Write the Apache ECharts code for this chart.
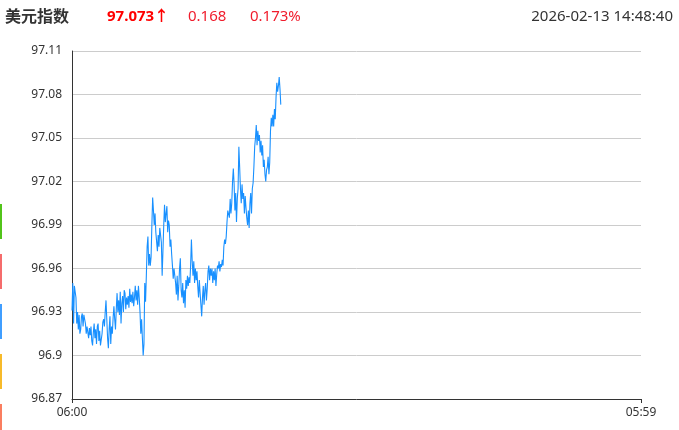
<!DOCTYPE html>
<html>
<head>
<meta charset="utf-8">
<script src="https://cdn.jsdelivr.net/npm/echarts@6/dist/echarts.min.js"></script>
<style>html,body{margin:0;padding:0;background:#fff;}#c{width:679px;height:430px;}</style>
</head>
<body>
<div id="c"></div>
<script>
// --- data ---
const titleText = '美元指数';
const lastPrice = '97.073↑';
const changeAbs = '0.168';
const changePct = '0.173%';
const stamp = '2026-02-13 14:48:40';
const xTickLabels = ['06:00', '05:59'];
const yTicks = [96.87, 96.9, 96.93, 96.96, 96.99, 97.02, 97.05, 97.08, 97.11];
const stepMinutes = 2; // one sample every 2 minutes from 06:00
const prices = [
  96.931, 96.950, 96.922, 96.948, 96.944, 96.940,
  96.922, 96.930, 96.918, 96.928, 96.915,
  96.918, 96.927, 96.929, 96.920, 96.928, 96.925,
  96.922, 96.915, 96.920, 96.921, 96.912, 96.919, 96.914, 96.920,
  96.910, 96.907, 96.916,
  96.922, 96.912, 96.918, 96.908, 96.920, 96.922, 96.910, 96.917, 96.907,
  96.906, 96.915, 96.923,
  96.925, 96.920, 96.930, 96.938,
  96.925, 96.912, 96.905, 96.918,
  96.927, 96.908, 96.920, 96.915, 96.926,
  96.934, 96.925, 96.918, 96.932,
  96.943, 96.930, 96.938, 96.928,
  96.944, 96.922, 96.936, 96.941, 96.930, 96.945,
  96.943, 96.932, 96.940, 96.935,
  96.941, 96.933, 96.946, 96.937, 96.942,
  96.936, 96.944, 96.934, 96.940, 96.948,
  96.938, 96.945, 96.935, 96.948, 96.940,
  96.930, 96.915, 96.925,
  96.912, 96.900, 96.908,
  96.950, 96.937, 96.955,
  96.975, 96.982, 96.962,
  96.970, 96.962, 96.968,
  96.990, 97.009, 97.000,
  96.990, 96.998, 96.985,
  96.985, 96.972, 96.983, 96.975, 96.988,
  96.988, 96.978, 96.955,
  96.972, 96.990, 97.004, 96.992,
  96.998, 97.003, 96.985, 96.993,
  96.990, 96.975, 96.980, 96.970,
  96.962, 96.953, 96.960, 96.955,
  96.950, 96.942, 96.955, 96.938, 96.948,
  96.960, 96.967, 96.945, 96.940,
  96.950, 96.936, 96.945, 96.933,
  96.952, 96.946, 96.955, 96.948, 96.954, 96.950,
  96.962, 96.980, 96.965,
  96.955, 96.965, 96.950, 96.960, 96.952, 96.958,
  96.948, 96.940, 96.952, 96.943,
  96.935, 96.927,
  96.940, 96.948, 96.935, 96.945, 96.950, 96.938, 96.946,
  96.958, 96.962, 96.952, 96.960,
  96.955, 96.960, 96.950, 96.958, 96.952, 96.960,
  96.948, 96.956, 96.962,
  96.960, 96.965, 96.958, 96.963, 96.961, 96.966, 96.962,
  96.975, 96.980, 96.977,
  96.982, 96.992, 97.000,
  97.000, 96.995, 97.008, 96.998, 97.005,
  97.020, 97.029,
  97.018, 97.000, 97.012, 96.992, 97.008, 97.015,
  97.044, 97.030,
  97.015, 97.005, 97.018, 97.008,
  97.012, 96.998, 97.010, 97.002,
  96.995, 96.990, 97.000, 96.988,
  97.005, 97.012, 96.998, 97.015,
  97.019, 97.030, 97.044,
  97.050, 97.059, 97.045, 97.055, 97.048,
  97.052, 97.040, 97.048, 97.038, 97.045,
  97.030, 97.035,
  97.025, 97.020, 97.028,
  97.030, 97.037, 97.025, 97.033,
  97.055, 97.064, 97.058,
  97.066, 97.058, 97.070, 97.063,
  97.078, 97.088, 97.082, 97.086,
  97.092, 97.084,
  97.073
];
const dayMinutes = 1439; // 06:00 .. 05:59 next day

// --- chart ---
const seriesData = prices.map((v, i) => [i * stepMinutes, v]);
const chart = echarts.init(document.getElementById('c'), null, { renderer: 'canvas' });
const font = '"Noto Sans", "Noto Sans CJK SC", sans-serif';
const sideColors = ['#52c41a', '#f56c6c', '#409eff', '#f7ba2a', '#fa7e60'];
const sideBars = sideColors.map((c, k) => ({
  type: 'rect', left: 0, top: 204 + k * 50,
  shape: { width: 2, height: 35 }, style: { fill: c }
}));
chart.setOption({
  animation: false,
  backgroundColor: '#fff',
  grid: { left: 72, right: 38, top: 51, bottom: 31 },
  xAxis: {
    type: 'value', min: 0, max: dayMinutes, interval: dayMinutes,
    axisLine: { show: true, lineStyle: { color: '#333', width: 1 } },
    axisTick: { show: true, length: 4, lineStyle: { color: '#333' } },
    splitLine: { show: false },
    axisLabel: {
      color: '#333', fontSize: 12, fontFamily: font, margin: 8,
      formatter: v => (v === 0 ? xTickLabels[0] : xTickLabels[1])
    }
  },
  yAxis: {
    type: 'value', min: yTicks[0], max: yTicks[yTicks.length - 1], interval: 0.03,
    axisLine: { show: true, lineStyle: { color: '#333', width: 1 } },
    axisTick: { show: false },
    splitLine: { show: true, lineStyle: { color: '#ccc', width: 1 } },
    axisLabel: {
      color: '#333', fontSize: 12, fontFamily: font, margin: 10,
      formatter: v => String(parseFloat(v.toFixed(2)))
    }
  },
  series: [{
    type: 'line', data: seriesData, showSymbol: false, symbol: 'none',
    lineStyle: { color: '#1890ff', width: 1.1 }, silent: true
  }],
  graphic: [
    { type: 'text', left: 5, top: 9, style: { text: titleText, fill: '#333', font: 'bold 16px ' + font } },
    { type: 'text', left: 107, top: 9, style: { text: lastPrice, fill: '#ff0000', font: 'bold 15px ' + font } },
    { type: 'text', left: 188, top: 9, style: { text: changeAbs, fill: '#f01c2c', font: '15px ' + font } },
    { type: 'text', left: 250, top: 9, style: { text: changePct, fill: '#f01c2c', font: '15px ' + font } },
    { type: 'text', right: 6, top: 9, style: { text: stamp, fill: '#333', font: '15px ' + font } }
  ].concat(sideBars)
});
</script>
</body>
</html>
